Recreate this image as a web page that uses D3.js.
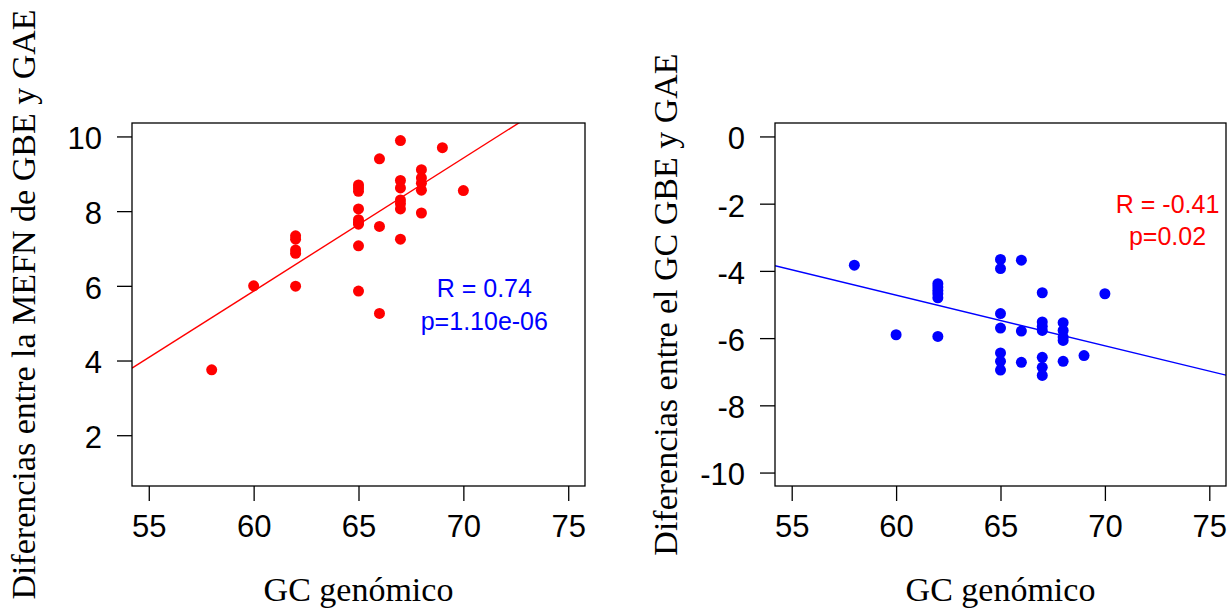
<!DOCTYPE html>
<meta charset="utf-8">
<head>
	<style>
		body { margin: 0; background: #fff; }
		.tick text { font-family: "Liberation Sans", Arial, sans-serif; }
		.title { font-family: "Liberation Serif", "Times New Roman", serif; font-size: 34px; fill: #000; }
		.note { font-family: "Liberation Sans", Arial, sans-serif; font-size: 25px; }
	</style>
	<script src="https://cdn.jsdelivr.net/npm/d3@7"></script>
</head>
<body>
<script>

	// genomic GC (x) for each panel
	var gcLeft = [58, 60, 62, 62, 62, 62, 62,
		65, 65, 65, 65, 65, 65, 65, 65, 65,
		66, 66, 66, 67, 67, 67, 67, 67, 67, 67,
		68, 68, 68, 68, 68, 69, 70];
	var mefnDiff = [3.75, 6.0, 7.34, 7.25, 6.96, 6.87, 5.99,
		8.70, 8.62, 8.53, 8.06, 7.77, 7.70, 7.65, 7.07, 5.86,
		9.40, 7.59, 5.26, 9.89, 8.82, 8.62, 8.30, 8.20, 8.06, 7.25,
		9.11, 8.89, 8.75, 8.56, 7.95, 9.70, 8.55];

	var gcRight = [58, 60, 62, 62, 62, 62, 62, 62,
		65, 65, 65, 65, 65, 65, 65,
		66, 66, 66, 67, 67, 67, 67, 67, 67, 67,
		68, 68, 68, 68, 68, 69, 70];
	var gcDiff = [-3.83, -5.90, -4.38, -4.48, -4.58, -4.68, -4.80, -5.95,
		-3.66, -3.93, -5.27, -5.70, -6.44, -6.69, -6.95,
		-3.68, -5.79, -6.72, -4.65, -5.52, -5.65, -5.77, -6.57, -6.87, -7.11,
		-5.54, -5.77, -5.97, -6.07, -6.69, -6.52, -4.68];

	// fitted lines: [intercept, slope]
	var fitLeft = [-15.5, 0.356];
	var fitRight = [4.32, -0.1507];

	var xTicks = [55, 60, 65, 70, 75];
	var yTicksLeft = [2, 4, 6, 8, 10];
	var yTicksRight = [0, -2, -4, -6, -8, -10];

	var xLabel = "GC genómico";
	var yLabelLeft = "Diferencias entre la MEFN de GBE y GAE";
	var yLabelRight = "Diferencias entre el GC GBE y GAE";
	var notesLeft = ["R = 0.74", "p=1.10e-06"], notePosLeft = [71, 5.5];
	var notesRight = ["R = -0.41", "p=0.02"], notePosRight = [73, -2.5];

	var width = 1231, height = 612;

	var svg = d3.select("body").append("svg")
		.attr("width", width)
		.attr("height", height);

	drawPanel({
		left: 132, right: 585, top: 123, bottom: 486,
		xs: gcLeft, ys: mefnDiff, fit: fitLeft,
		ydom: [1, 10], yticks: yTicksLeft, ylab: yLabelLeft, ylabX: 35,
		dotColor: "#ff0000", lineColor: "#ff0000",
		notes: notesLeft, notePos: notePosLeft, noteColor: "#0000ff"
	});

	drawPanel({
		left: 775, right: 1226, top: 123, bottom: 486,
		xs: gcRight, ys: gcDiff, fit: fitRight,
		ydom: [-10, 0], yticks: yTicksRight, ylab: yLabelRight, ylabX: 677,
		dotColor: "#0000ff", lineColor: "#0000ff",
		notes: notesRight, notePos: notePosRight, noteColor: "#ff0000"
	});

	function pad(dom) {
		// R style 4% extension of the axis range
		var e = (dom[1] - dom[0]) * 0.04;
		return [dom[0] - e, dom[1] + e];
	}

	function drawPanel(p) {
		var x = d3.scaleLinear().domain(pad([55, 75])).range([p.left, p.right]);
		var y = d3.scaleLinear().domain(pad(p.ydom)).range([p.bottom, p.top]);
		var fmt = function(d) { return String(d) };  // plain hyphen for negatives

		var g = svg.append("g");

		var clipId = "clip" + p.left;
		g.append("clipPath").attr("id", clipId)
			.append("rect")
			.attr("x", p.left).attr("y", p.top)
			.attr("width", p.right - p.left).attr("height", p.bottom - p.top);

		var xAxis = g.append("g")
			.attr("transform", "translate(0," + p.bottom + ")")
			.call(d3.axisBottom(x).tickValues(xTicks).tickFormat(fmt).tickSize(15).tickPadding(14).tickSizeOuter(0));
		var yAxis = g.append("g")
			.attr("transform", "translate(" + p.left + ",0)")
			.call(d3.axisLeft(y).tickValues(p.yticks).tickFormat(fmt).tickSize(15).tickPadding(15).tickSizeOuter(0));

		[xAxis, yAxis].forEach(function(a) {
			a.select(".domain").remove();
			a.selectAll(".tick line").attr("stroke", "#000").attr("stroke-width", 1.3);
			a.selectAll(".tick text").attr("fill", "#000").style("font-size", "31px");
		});
		yAxis.selectAll(".tick text").attr("dy", "0.4em");

		// regression line, clipped to the plot box
		var xd = x.domain();
		g.append("line")
			.attr("clip-path", "url(#" + clipId + ")")
			.attr("x1", x(xd[0])).attr("y1", y(p.fit[0] + p.fit[1] * xd[0]))
			.attr("x2", x(xd[1])).attr("y2", y(p.fit[0] + p.fit[1] * xd[1]))
			.attr("stroke", p.lineColor)
			.attr("stroke-width", 1.4);

		g.append("g").selectAll("circle")
			.data(p.xs)
		  .enter().append("circle")
			.attr("cx", function(d) { return x(d) })
			.attr("cy", function(d, i) { return y(p.ys[i]) })
			.attr("r", 5.5)
			.attr("fill", p.dotColor);

		g.append("rect")
			.attr("x", p.left).attr("y", p.top)
			.attr("width", p.right - p.left).attr("height", p.bottom - p.top)
			.attr("fill", "none")
			.attr("stroke", "#000")
			.attr("stroke-width", 1.3);

		var note = g.append("text")
			.attr("class", "note")
			.attr("fill", p.noteColor)
			.attr("text-anchor", "middle")
			.attr("x", x(p.notePos[0]))
			.attr("y", y(p.notePos[1]));
		note.selectAll("tspan")
			.data(p.notes)
		  .enter().append("tspan")
			.attr("x", x(p.notePos[0]))
			.attr("dy", function(d, i) { return i == 0 ? "-0.3em" : "1.3em" })
			.text(function(d) { return d });

		g.append("text")
			.attr("class", "title")
			.attr("text-anchor", "middle")
			.attr("x", (p.left + p.right) / 2)
			.attr("y", 601)
			.text(xLabel);

		g.append("text")
			.attr("class", "title")
			.attr("text-anchor", "middle")
			.attr("transform", "translate(" + p.ylabX + "," + (p.top + p.bottom) / 2 + ")rotate(-90)")
			.text(p.ylab);
	}

</script>
</body>
